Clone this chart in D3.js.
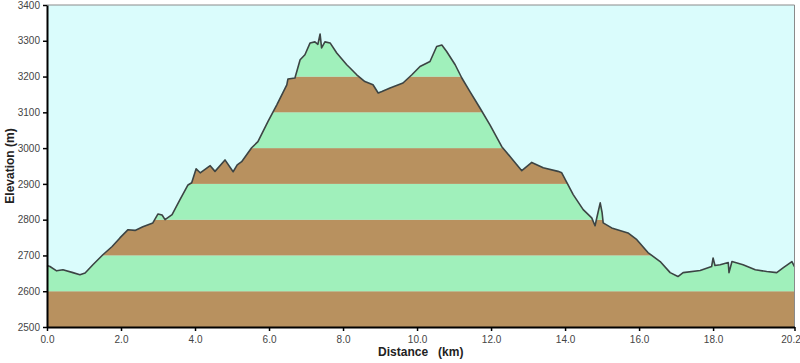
<!DOCTYPE html>
<html>
<head>
<meta charset="utf-8">
<script src="https://cdn.jsdelivr.net/npm/d3@7"></script>
<style>
  body { margin: 0; background: #fff; }
  svg text { font-family: "Liberation Sans", Arial, sans-serif; }
</style>
</head>
<body>
<script>
// profile: distance (km) and elevation (m)
var distKm = [0.00, 0.08, 0.26, 0.43, 0.70, 0.89, 1.03, 1.24, 1.51, 1.76, 1.97, 2.19, 2.38, 2.59, 2.86,
  3.00, 3.11, 3.19, 3.38, 3.59, 3.81, 3.91, 4.03, 4.14, 4.41, 4.54, 4.81, 5.03, 5.14, 5.26, 5.53,
  5.70, 5.97, 6.21, 6.48, 6.51, 6.70, 6.84, 6.97, 7.11, 7.24, 7.32, 7.38, 7.42, 7.51, 7.65, 7.83,
  8.10, 8.19, 8.37, 8.59, 8.81, 8.95, 9.05, 9.27, 9.62, 9.86, 10.08, 10.35, 10.53, 10.67, 10.80,
  11.03, 11.21, 11.43, 11.70, 11.97, 12.29, 12.59, 12.83, 13.10, 13.41, 13.81, 13.91, 14.22, 14.49,
  14.72, 14.81, 14.89, 14.95, 15.00, 15.03, 15.26, 15.70, 15.94, 16.24, 16.57, 16.84, 17.05, 17.19,
  17.65, 17.96, 18.00, 18.05, 18.19, 18.41, 18.43, 18.51, 18.81, 19.14, 19.45, 19.72, 19.89, 20.13, 20.20];
var elevM = [2672, 2669, 2657, 2660, 2652, 2646, 2651, 2674, 2702, 2725, 2749, 2772, 2770, 2780, 2791,
  2816, 2813, 2800, 2814, 2855, 2897, 2903, 2942, 2931, 2951, 2935, 2967, 2934, 2953, 2962, 3001,
  3018, 3074, 3121, 3177, 3193, 3196, 3247, 3261, 3294, 3297, 3290, 3319, 3280, 3297, 3294, 3266,
  3233, 3224, 3205, 3186, 3177, 3154, 3158, 3168, 3182, 3205, 3228, 3242, 3284, 3288, 3270,
  3233, 3196, 3158, 3112, 3065, 3004, 2967, 2937, 2960, 2945, 2935, 2931, 2870, 2828,
  2805, 2783, 2820, 2847, 2820, 2791, 2777, 2763, 2744, 2708, 2683, 2652, 2641, 2652,
  2658, 2669, 2693, 2672, 2674, 2680, 2652, 2683, 2674, 2660, 2655, 2652, 2665, 2683, 2669];

var xTicks = [0, 2, 4, 6, 8, 10, 12, 14, 16, 18, 20.2];
var yTicks = [2500, 2600, 2700, 2800, 2900, 3000, 3100, 3200, 3300, 3400];
var bandColors = ["#b8915f", "#a0f0bb"];

var margin = {top: 5, right: 5.5, bottom: 36, left: 47},
    width = 800 - margin.left - margin.right,
    height = 363 - margin.top - margin.bottom;

var svg = d3.select("body").append("svg")
    .attr("width", 800)
    .attr("height", 363),
  g = svg.append("g")
    .attr("transform", "translate(" + margin.left + "," + margin.top + ")");

var x = d3.scaleLinear().domain([0, 20.2]).range([0, width]);
var y = d3.scaleLinear().domain([2500, 3400]).range([height, 0]);

var pts = distKm.map(function(d, i) { return [d, elevM[i]]; });

// sky
g.append("rect")
  .attr("width", width)
  .attr("height", height)
  .attr("fill", "#dafcfc");

var area = d3.area()
  .x(function(d) { return x(d[0]); })
  .y0(height)
  .y1(function(d) { return y(d[1]); });

svg.append("defs").append("clipPath")
    .attr("id", "ground")
  .append("path")
    .attr("d", area(pts));

// 100 m bands, clipped to the ground
var bands = g.append("g").attr("clip-path", "url(#ground)");
bands.selectAll("rect")
    .data(yTicks.slice(0, -1))
  .enter().append("rect")
    .attr("x", 0)
    .attr("width", width)
    .attr("y", function(d) { return y(d + 100); })
    .attr("height", function(d) { return y(d) - y(d + 100); })
    .attr("fill", function(d, i) { return bandColors[i % 2]; });

// profile line
g.append("path")
  .datum(pts)
  .attr("fill", "none")
  .attr("stroke", "#3c4444")
  .attr("stroke-width", 1.6)
  .attr("stroke-linejoin", "round")
  .attr("d", d3.line()
    .x(function(d) { return x(d[0]); })
    .y(function(d) { return y(d[1]); }));

// frame top/right
g.append("path")
  .attr("d", "M0,0H" + width + "V" + height)
  .attr("fill", "none")
  .attr("stroke", "#8a8a8a")
  .attr("stroke-width", 1);

// axes
var xAxis = g.append("g")
  .attr("transform", "translate(0," + height + ")")
  .call(d3.axisBottom(x).tickValues(xTicks).tickSize(4).tickSizeOuter(0)
    .tickFormat(d3.format(".1f")));
var yAxis = g.append("g")
  .call(d3.axisLeft(y).tickValues(yTicks).tickSize(4).tickSizeOuter(0)
    .tickFormat(d3.format("d")));

[xAxis, yAxis].forEach(function(a) {
  a.select(".domain").attr("stroke", "#000").attr("stroke-width", 2);
  a.selectAll(".tick line").attr("stroke", "#000").attr("stroke-width", 1.5);
  a.selectAll(".tick text").attr("fill", "#444").style("font-size", "10px");
});
xAxis.selectAll(".tick text").attr("dy", "0.9em");
// last label sits against the right edge
xAxis.selectAll(".tick text").filter(function(d) { return d === 20.2; })
  .attr("x", -4);

svg.append("text")
  .attr("x", margin.left + width / 2)
  .attr("y", 356)
  .attr("text-anchor", "middle")
  .style("font-size", "12px")
  .style("font-weight", "bold")
  .attr("fill", "#222")
  .attr("xml:space", "preserve")
  .text("Distance   (km)");

svg.append("text")
  .attr("transform", "translate(14," + (margin.top + height / 2) + ") rotate(-90)")
  .attr("text-anchor", "middle")
  .style("font-size", "12px")
  .style("font-weight", "bold")
  .attr("fill", "#222")
  .text("Elevation (m)");
</script>
</body>
</html>
